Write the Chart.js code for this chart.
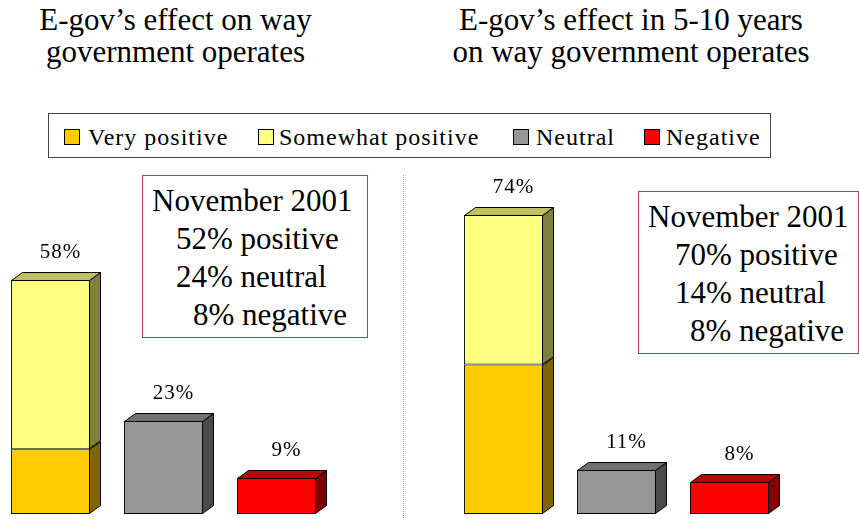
<!DOCTYPE html>
<html><head><meta charset="utf-8">
<script src="https://cdn.jsdelivr.net/npm/chart.js@4/dist/chart.umd.min.js"></script>
<style>
html,body{margin:0;padding:0;background:#fff;}
body{width:859px;height:519px;position:relative;overflow:hidden;font-family:"Liberation Serif","Times New Roman",serif;color:#000;}
.title{position:absolute;top:4px;font-size:31px;line-height:32px;white-space:nowrap;text-align:center;}
.box{position:absolute;box-sizing:border-box;border:1px solid #B03A62;background:#fff;}
.bl{position:absolute;font-size:31px;line-height:38px;white-space:nowrap;}
#legend{position:absolute;left:48px;top:113px;width:723px;height:45px;box-sizing:border-box;border:1px solid #444;}
.sw{position:absolute;width:16px;height:16px;box-sizing:border-box;border:1px solid #000;}
.lt{position:absolute;font-size:24px;line-height:24px;letter-spacing:1px;white-space:nowrap;}
.cw{position:absolute;top:0;height:519px;}
#divider{position:absolute;left:403px;top:175px;height:343px;border-left:1px dotted #999;}
</style></head><body>
<div class="title" style="left:0;width:351px">E-gov’s effect on way<br>government operates</div>
<div class="title" style="left:431px;width:400px">E-gov’s effect in 5-10 years<br>on way government operates</div>
<div id="legend"></div>
<div id="divider"></div>
<div class="cw" style="left:-20px;width:423px"><canvas id="c1" width="423" height="519"></canvas></div>
<div class="cw" style="left:420px;width:439px"><canvas id="c2" width="439" height="519"></canvas></div>
<div class="box" style="left:142px;top:175px;width:226px;height:163px"></div>
<div class="box" style="left:638px;top:191px;width:221px;height:163px"></div>
<div id="notes"></div>
<script>
// ---- data ----
const categories = ['Positive', 'Neutral', 'Negative'];
const seriesNames = ['Very positive', 'Somewhat positive', 'Neutral', 'Negative'];
// Chart 1: effect now
const nowVeryPositive     = [16, null, null];
const nowSomewhatPositive = [42, null, null];
const nowNeutral          = [null, 23, null];
const nowNegative         = [null, null, 9];
// Chart 2: effect in 5-10 years
const futVeryPositive     = [37, null, null];
const futSomewhatPositive = [37, null, null];
const futNeutral          = [null, 11, null];
const futNegative         = [null, null, 8];
// November 2001 comparison notes
const nov2001Now = ['November 2001', '52% positive', '24% neutral', '8% negative'];
const nov2001Fut = ['November 2001', '70% positive', '14% neutral', '8% negative'];

// ---- styles ----
const frontColors = ['#FFCC00', '#FFFF80', '#969696', '#FF0000'];
const sideColors  = ['#806600', '#808040', '#4B4B4B', '#800000'];
const topColors   = ['#C09900', '#C0C060', '#707070', '#C00000'];
const DX = 11, DY = 8;

// legend
const legend = document.getElementById('legend');
const swX = [15, 209, 464, 595], txX = [39, 230, 487, 617];
seriesNames.forEach((n, i) => {
  const s = document.createElement('div');
  s.className = 'sw'; s.style.left = swX[i] + 'px'; s.style.top = '15px';
  s.style.background = frontColors[i];
  legend.appendChild(s);
  const t = document.createElement('div');
  t.className = 'lt'; t.style.left = txX[i] + 'px'; t.style.top = '11px';
  t.textContent = n;
  legend.appendChild(t);
});

// notes
function addNotes(lines, lefts, top) {
  const host = document.getElementById('notes');
  lines.forEach((l, i) => {
    const d = document.createElement('div');
    d.className = 'bl'; d.style.left = lefts[i] + 'px'; d.style.top = (top + i * 38) + 'px';
    d.textContent = l;
    host.appendChild(d);
  });
}
addNotes(nov2001Now, [152, 176, 176, 193], 181.5);
addNotes(nov2001Fut, [648, 675, 675, 690], 197.5);

const threeD = {
  id: 'threeD',
  afterDatasetsDraw(chart) {
    const ctx = chart.ctx;
    const ds = chart.data.datasets;
    ctx.save();
    ctx.lineWidth = 1; ctx.strokeStyle = '#000';
    ds.forEach((d, di) => {
      const meta = chart.getDatasetMeta(di);
      meta.data.forEach((el, i) => {
        const v = d.data[i];
        if (v == null || v === 0) return;
        const p = el.getProps(['x', 'y', 'base', 'width'], true);
        const l = Math.round(p.x - p.width / 2) + 0.5, r = Math.round(p.x + p.width / 2) - 0.5;
        const top = Math.round(Math.min(p.y, p.base)) + 0.5, bot = Math.round(Math.max(p.y, p.base)) - 0.5;
        ctx.beginPath();
        ctx.moveTo(r, bot); ctx.lineTo(r, top); ctx.lineTo(r + DX, top - DY); ctx.lineTo(r + DX, bot - DY); ctx.closePath();
        ctx.fillStyle = d.sideColor; ctx.fill(); ctx.stroke();
        const isTop = !ds.slice(di + 1).some(o => o.data[i] != null && o.data[i] !== 0);
        if (isTop) {
          ctx.beginPath();
          ctx.moveTo(l, top); ctx.lineTo(l + DX, top - DY); ctx.lineTo(r + DX, top - DY); ctx.lineTo(r, top); ctx.closePath();
          ctx.fillStyle = d.topColor; ctx.fill(); ctx.stroke();
        }
      });
    });
    // value labels
    const y = chart.scales.y;
    ctx.fillStyle = '#000';
    ctx.font = '21px "Liberation Serif", "Times New Roman", serif';
    ctx.letterSpacing = '1px';
    ctx.textAlign = 'center'; ctx.textBaseline = 'alphabetic';
    chart.data.labels.forEach((c, i) => {
      let total = 0, x = null;
      ds.forEach((d, di) => {
        if (d.data[i] != null) { total += d.data[i]; x = chart.getDatasetMeta(di).data[i].x; }
      });
      if (x == null) return;
      ctx.fillText(total + '%', x + 10, y.getPixelForValue(total) - 22);
    });
    ctx.restore();
  }
};

function makeChart(id, series, padL, padR) {
  new Chart(document.getElementById(id), {
    type: 'bar',
    data: {
      labels: categories,
      datasets: series.map((s, i) => ({
        label: seriesNames[i], data: s,
        backgroundColor: frontColors[i], sideColor: sideColors[i], topColor: topColors[i],
        borderColor: '#000', borderWidth: 1, borderSkipped: false,
        categoryPercentage: 1, barPercentage: 0.7
      }))
    },
    options: {
      responsive: false, animation: false, devicePixelRatio: 1,
      layout: { padding: { left: padL, right: padR, top: 110, bottom: 5 } },
      plugins: { legend: { display: false }, tooltip: { enabled: false }, title: { display: false } },
      scales: {
        x: { stacked: true, display: false },
        y: { stacked: true, display: false, min: 0, max: 100 }
      }
    },
    plugins: [threeD]
  });
}
makeChart('c1', [nowVeryPositive, nowSomewhatPositive, nowNeutral, nowNegative], 14, 70);
makeChart('c2', [futVeryPositive, futSomewhatPositive, futNeutral, futNegative], 27, 73);
</script>
</body></html>
